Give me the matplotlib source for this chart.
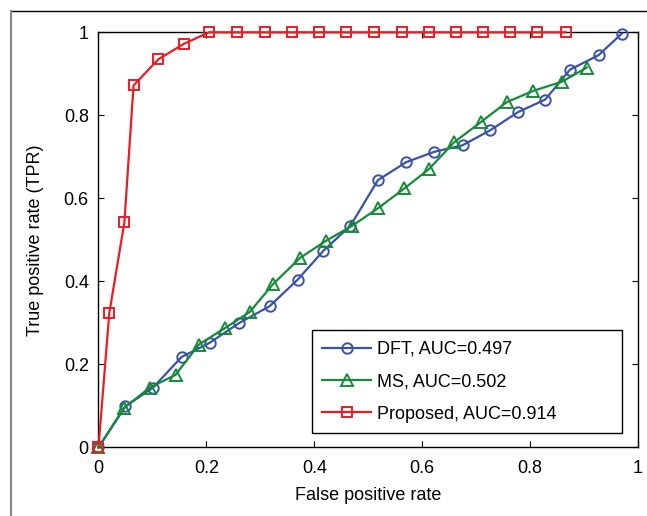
import matplotlib
matplotlib.use('Agg')
import matplotlib.pyplot as plt
from matplotlib.lines import Line2D

plt.rcParams['font.family'] = ['Liberation Sans', 'DejaVu Sans']

# ROC points
dft_fpr = [0, 0.050, 0.101, 0.154, 0.206, 0.261, 0.317, 0.369, 0.417, 0.467,
           0.518, 0.570, 0.622, 0.675, 0.726, 0.778, 0.828, 0.874, 0.927, 0.970]
dft_tpr = [0, 0.099, 0.144, 0.218, 0.252, 0.300, 0.340, 0.404, 0.474, 0.534,
           0.644, 0.687, 0.712, 0.728, 0.764, 0.808, 0.838, 0.910, 0.945, 0.997]

ms_fpr = [0, 0.047, 0.095, 0.143, 0.186, 0.235, 0.280, 0.324, 0.374, 0.422,
          0.469, 0.518, 0.567, 0.613, 0.659, 0.709, 0.757, 0.806, 0.859, 0.905]
ms_tpr = [0, 0.095, 0.144, 0.175, 0.248, 0.288, 0.326, 0.394, 0.457, 0.498,
          0.533, 0.576, 0.624, 0.671, 0.735, 0.784, 0.832, 0.859, 0.881, 0.915]

prop_fpr = [0, 0.020, 0.048, 0.065, 0.111, 0.158, 0.205, 0.257, 0.309, 0.359,
            0.409, 0.459, 0.511, 0.562, 0.612, 0.662, 0.712, 0.762, 0.812, 0.866]
prop_tpr = [0, 0.323, 0.542, 0.872, 0.935, 0.972, 1, 1, 1, 1,
            1, 1, 1, 1, 1, 1, 1, 1, 1, 1]

labels = ['DFT, AUC=0.497', 'MS, AUC=0.502', 'Proposed, AUC=0.914']
ticks = [0, 0.2, 0.4, 0.6, 0.8, 1]
tick_labels = ['0', '0.2', '0.4', '0.6', '0.8', '1']

fig = plt.figure(figsize=(6.47, 5.16), dpi=100)
ax = fig.add_axes([0.1522, 0.1328, 0.8339, 0.8046])

ax.plot(dft_fpr, dft_tpr, color='#3953a4', lw=1.6, marker='o', ms=7.5, mfc='none',
        mew=1.4, clip_on=False, label=labels[0], zorder=3)
ax.plot(ms_fpr, ms_tpr, color='#178a3a', lw=1.6, marker='^', ms=8.5, mfc='none',
        mew=1.4, clip_on=False, label=labels[1], zorder=4)
ax.plot(prop_fpr, prop_tpr, color='#ed1c24', lw=1.6, marker='s', ms=7.5, mfc='none',
        mew=1.4, clip_on=False, label=labels[2], zorder=5)

ax.set_xlim(0, 1)
ax.set_ylim(0, 1)
ax.set_xticks(ticks)
ax.set_xticklabels(tick_labels)
ax.set_yticks(ticks)
ax.set_yticklabels(tick_labels)
ax.tick_params(direction='in', top=True, right=True, length=4, width=0.8,
               labelsize=13, pad=7)
ax.tick_params(axis='x', pad=9)
for s in ax.spines.values():
    s.set_linewidth(1.0)

ax.set_xlabel('False positive rate', fontsize=13, labelpad=7)
ax.set_ylabel('True positive rate (TPR)', fontsize=13, labelpad=14)

leg = ax.legend(loc='lower left', bbox_to_anchor=(0.395, 0.034, 0.576, 0.243),
                mode='expand', fontsize=13,
                fancybox=False, edgecolor='black', framealpha=1,
                handlelength=2.7, handletextpad=0.3, borderpad=0.6,
                labelspacing=0.85, borderaxespad=0)
leg.get_frame().set_linewidth(1.0)

# outer frame lines of the original figure
fig.add_artist(Line2D([11 / 647, 1], [1 - 11 / 516, 1 - 11 / 516],
                      transform=fig.transFigure, color='black', lw=1.0))
fig.add_artist(Line2D([11 / 647, 11 / 647], [0, 1 - 11 / 516],
                      transform=fig.transFigure, color='#888888', lw=1.5))

fig.savefig('out.png', dpi=100)
